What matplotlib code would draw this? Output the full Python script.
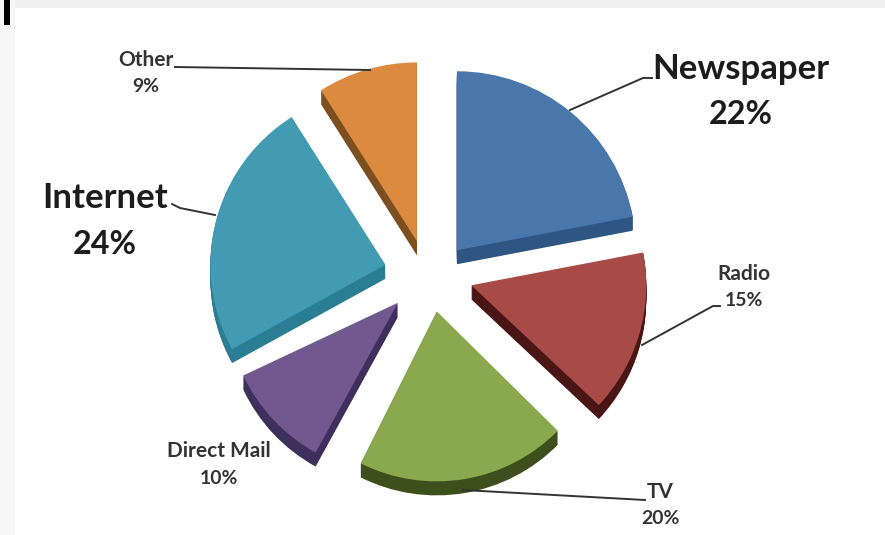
import matplotlib
matplotlib.use('Agg')
import matplotlib.pyplot as plt
from matplotlib.patches import Rectangle

plt.rcParams['font.family'] = ['Lato', 'DejaVu Sans']

CANALES = ['Newspaper', 'Radio', 'TV', 'Direct Mail', 'Internet', 'Other']
PORCENTAJES = [22, 15, 20, 10, 24, 9]

COLOR_CARA = ['#4a77ab', '#a84b47', '#8aa84e', '#71588f', '#429ab3', '#db8a3f']
COLOR_LADO = ['#2f5583', '#4a1615', '#3c4f1c', '#3f2f5c', '#2a7d93', '#7d4f20']

GROSOR = 14
CENTRO = (428, 257)
SEPARACION = [36, 44, 36, 38, 45, 36]
# retoques por porcion: radio, desplazamiento y giro
RADIOS = [179, 175, 170, 171, 175, 179]
NUDGE = [(6, 0), (1, 5), (2, 2), (-4, 3), (1, 2), (-1, 2)]
GIRO = [0, 0, 1.4, 3.6, 0, 0]

fig = plt.figure(figsize=(8.85, 5.35), dpi=100, facecolor='white')
ax = fig.add_axes([0, 0, 1, 1])


def tarta(prof, colores):
    porciones, _ = ax.pie(PORCENTAJES, colors=colores, startangle=90, counterclock=False,
                          radius=175, center=(CENTRO[0], CENTRO[1] - prof),
                          explode=SEPARACION, wedgeprops={'linewidth': 0}, frame=True)
    for w, r, (dx, dy), g in zip(porciones, RADIOS, NUDGE, GIRO):
        cx, cy = w.center
        w.set_center((cx + dx, cy + dy))
        w.set_radius(r)
        w.set_theta1(w.theta1 - g)
        w.set_theta2(w.theta2 - g)


# laterales: copias desplazadas hacia abajo, de la mas profunda a la cara
for prof in range(GROSOR, 0, -1):
    tarta(prof, COLOR_LADO)
tarta(0, COLOR_CARA)

ax.set_aspect('auto')
ax.set_xlim(0, 885)
ax.set_ylim(0, 535)
ax.axis('off')

# bordes grises de la captura
ax.add_patch(Rectangle((0, 527), 885, 8, color='#f0f0f0', lw=0, zorder=0))
ax.add_patch(Rectangle((0, 0), 15, 535, color='#f7f7f7', lw=0, zorder=0))
ax.add_patch(Rectangle((4, 510), 6, 25, color='#000000', lw=0, zorder=1))


def rotulo(nombre, valor, x, y, tam, color, sep):
    ax.text(x, y, nombre, ha='center', va='center', fontsize=tam,
            fontweight='bold', color=color)
    ax.text(x, y - sep, f'{valor}%', ha='center', va='center', fontsize=tam * 0.93,
            fontweight='bold', color=color)


rotulo(CANALES[0], PORCENTAJES[0], 741, 466, 25, '#1c1c1c', 46)
rotulo(CANALES[1], PORCENTAJES[1], 744, 261, 15, '#333333', 27)
rotulo(CANALES[2], PORCENTAJES[2], 660, 43, 15, '#333333', 27)
rotulo(CANALES[3], PORCENTAJES[3], 219, 84, 15, '#333333', 27)
rotulo(CANALES[4], PORCENTAJES[4], 105, 337, 25, '#1c1c1c', 46)
rotulo(CANALES[5], PORCENTAJES[5], 146, 475, 15, '#333333', 27)

# lineas guia
ax.plot([570, 643, 652], [425, 457, 457], color='#333333', lw=1.4)
ax.plot([642, 713, 720], [190, 229, 229], color='#333333', lw=1.4)
ax.plot([463, 645], [45, 35], color='#333333', lw=1.4)
ax.plot([172, 180, 215], [331, 327, 320], color='#333333', lw=1.4)
ax.plot([175, 370], [468, 465], color='#333333', lw=1.4)

fig.savefig('out.png', dpi=100)
